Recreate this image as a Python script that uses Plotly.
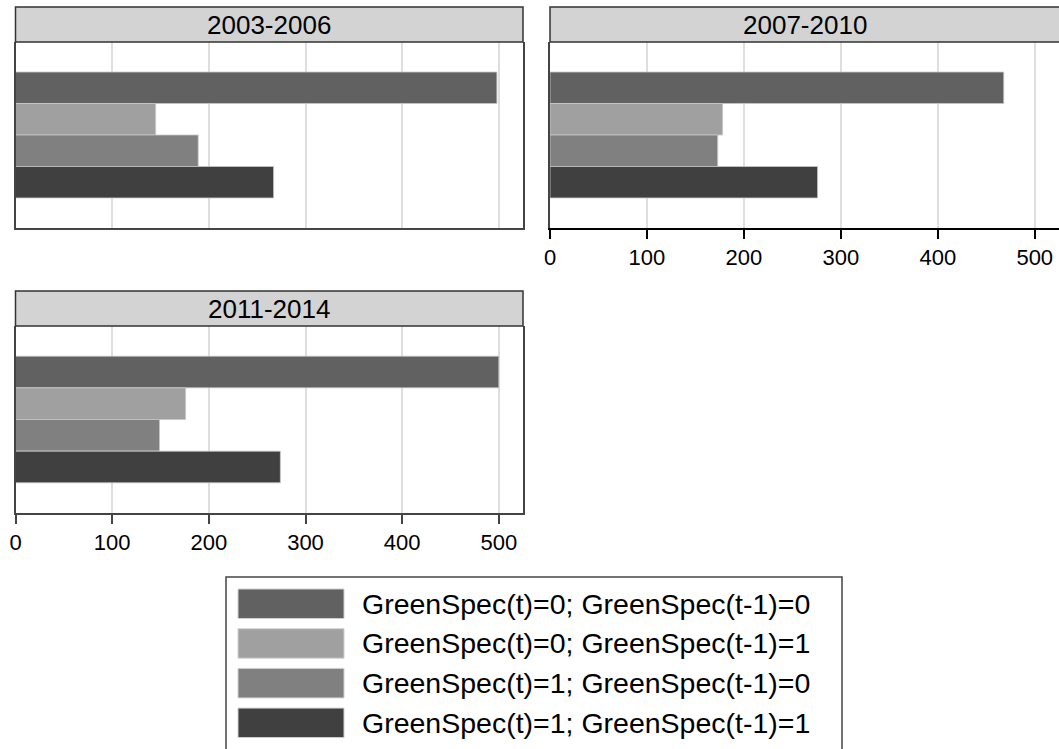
import plotly.graph_objects as go

# Periods (one panel each) and the four GreenSpec transition groups
periods = ["2003-2006", "2007-2010", "2011-2014"]
groups = [
    "GreenSpec(t)=0; GreenSpec(t-1)=0",
    "GreenSpec(t)=0; GreenSpec(t-1)=1",
    "GreenSpec(t)=1; GreenSpec(t-1)=0",
    "GreenSpec(t)=1; GreenSpec(t-1)=1",
]
counts_2003_2006 = [498, 145, 189, 267]
counts_2007_2010 = [468, 178, 173, 276]
counts_2011_2014 = [500, 176, 149, 274]
counts = [counts_2003_2006, counts_2007_2010, counts_2011_2014]
bar_colors = ["#616161", "#a0a0a0", "#808080", "#404040"]
tick_vals = [0, 100, 200, 300, 400, 500]

W, H = 1059, 749
FONT = "Liberation Sans, Arial, sans-serif"

def px_x(v):
    return v / W

def px_y(v):
    return 1 - v / H

# panel frames in pixels: (x0, x1, y_top, y_bottom)
frames = [
    (15.5, 523, 42, 228),
    (550, 1059, 42, 228),
    (15.5, 523, 326, 513),
]
strip_h = 35

fig = go.Figure()

for p, (period, vals) in enumerate(zip(periods, counts)):
    ax = "" if p == 0 else str(p + 1)
    for g, (name, v, c) in enumerate(zip(groups, vals, bar_colors)):
        fig.add_trace(go.Bar(
            x=[v], y=[period], orientation="h", name=name,
            marker=dict(color=c, line=dict(color="#c8c8c8", width=0.8)),
            xaxis="x" + ax, yaxis="y" + ax, showlegend=False,
            hoverinfo="x+name",
        ))

    x0, x1, yt, yb = frames[p]
    show_labels = p != 0
    axis_line_w = 2 if p == 1 else 1.5
    axis_line_c = "#000000" if p == 1 else "#444444"
    fig.update_layout(**{
        "xaxis" + ax: dict(
            domain=[px_x(x0), min(px_x(x1), 1.0)],
            anchor="y" + ax,
            range=[0, 525],
            tickvals=tick_vals,
            showticklabels=show_labels,
            ticks="outside" if show_labels else "",
            ticklen=9, tickwidth=1.5, tickcolor=axis_line_c,
            showgrid=True, gridcolor="#dedede", gridwidth=2,
            showline=True, linecolor=axis_line_c, linewidth=axis_line_w,
            zeroline=False, automargin=False,
            tickfont=dict(family=FONT, size=22, color="#000000"),
            fixedrange=True,
        ),
        "yaxis" + ax: dict(
            domain=[px_y(yb), px_y(yt)],
            anchor="x" + ax,
            autorange="reversed",
            showticklabels=False,
            showgrid=False, zeroline=False, automargin=False,
            showline=True, linecolor="#444444", linewidth=1.5,
            mirror=True,
            fixedrange=True,
        ),
    })

    # panel strip with the period label
    fig.add_shape(
        type="rect", xref="x" + ax + " domain", yref="y" + ax + " domain",
        x0=0, x1=1.03 if p == 1 else 1, y0=1,
        y1=1 + strip_h / (yb - yt),
        fillcolor="#d3d3d3", line=dict(color="#333333", width=1.5),
        layer="above",
    )
    fig.add_annotation(
        xref="x" + ax + " domain", yref="y" + ax + " domain",
        x=0.5, y=1 + strip_h / 2 / (yb - yt),
        text=period, showarrow=False, xanchor="center", yanchor="middle",
        font=dict(family=FONT, size=26, color="#000000"),
    )

# legend box drawn below the panels
fig.add_shape(
    type="rect", xref="paper", yref="paper",
    x0=px_x(226), x1=px_x(842), y0=px_y(760), y1=px_y(577),
    fillcolor="rgba(0,0,0,0)", line=dict(color="#444444", width=1.5),
)
row_top = 589
row_step = 39.7
sw_h = 29.5
for g, (name, c) in enumerate(zip(groups, bar_colors)):
    top = row_top + g * row_step
    fig.add_shape(
        type="rect", xref="paper", yref="paper",
        x0=px_x(238), x1=px_x(344), y0=px_y(top + sw_h), y1=px_y(top),
        fillcolor=c, line=dict(color="#d0d0d0", width=1),
    )
    fig.add_annotation(
        xref="paper", yref="paper", x=px_x(360), y=px_y(top + sw_h / 2),
        text=name, showarrow=False, xanchor="left", yanchor="middle",
        font=dict(family=FONT, size=28.5, color="#000000"),
    )

fig.update_layout(
    width=W, height=H,
    margin=dict(l=0, r=0, t=0, b=0),
    paper_bgcolor="#ffffff", plot_bgcolor="#ffffff",
    barmode="group", bargap=0.323, bargroupgap=0,
    showlegend=False,
    font=dict(family=FONT, color="#000000"),
)

fig.write_html("out.html")
